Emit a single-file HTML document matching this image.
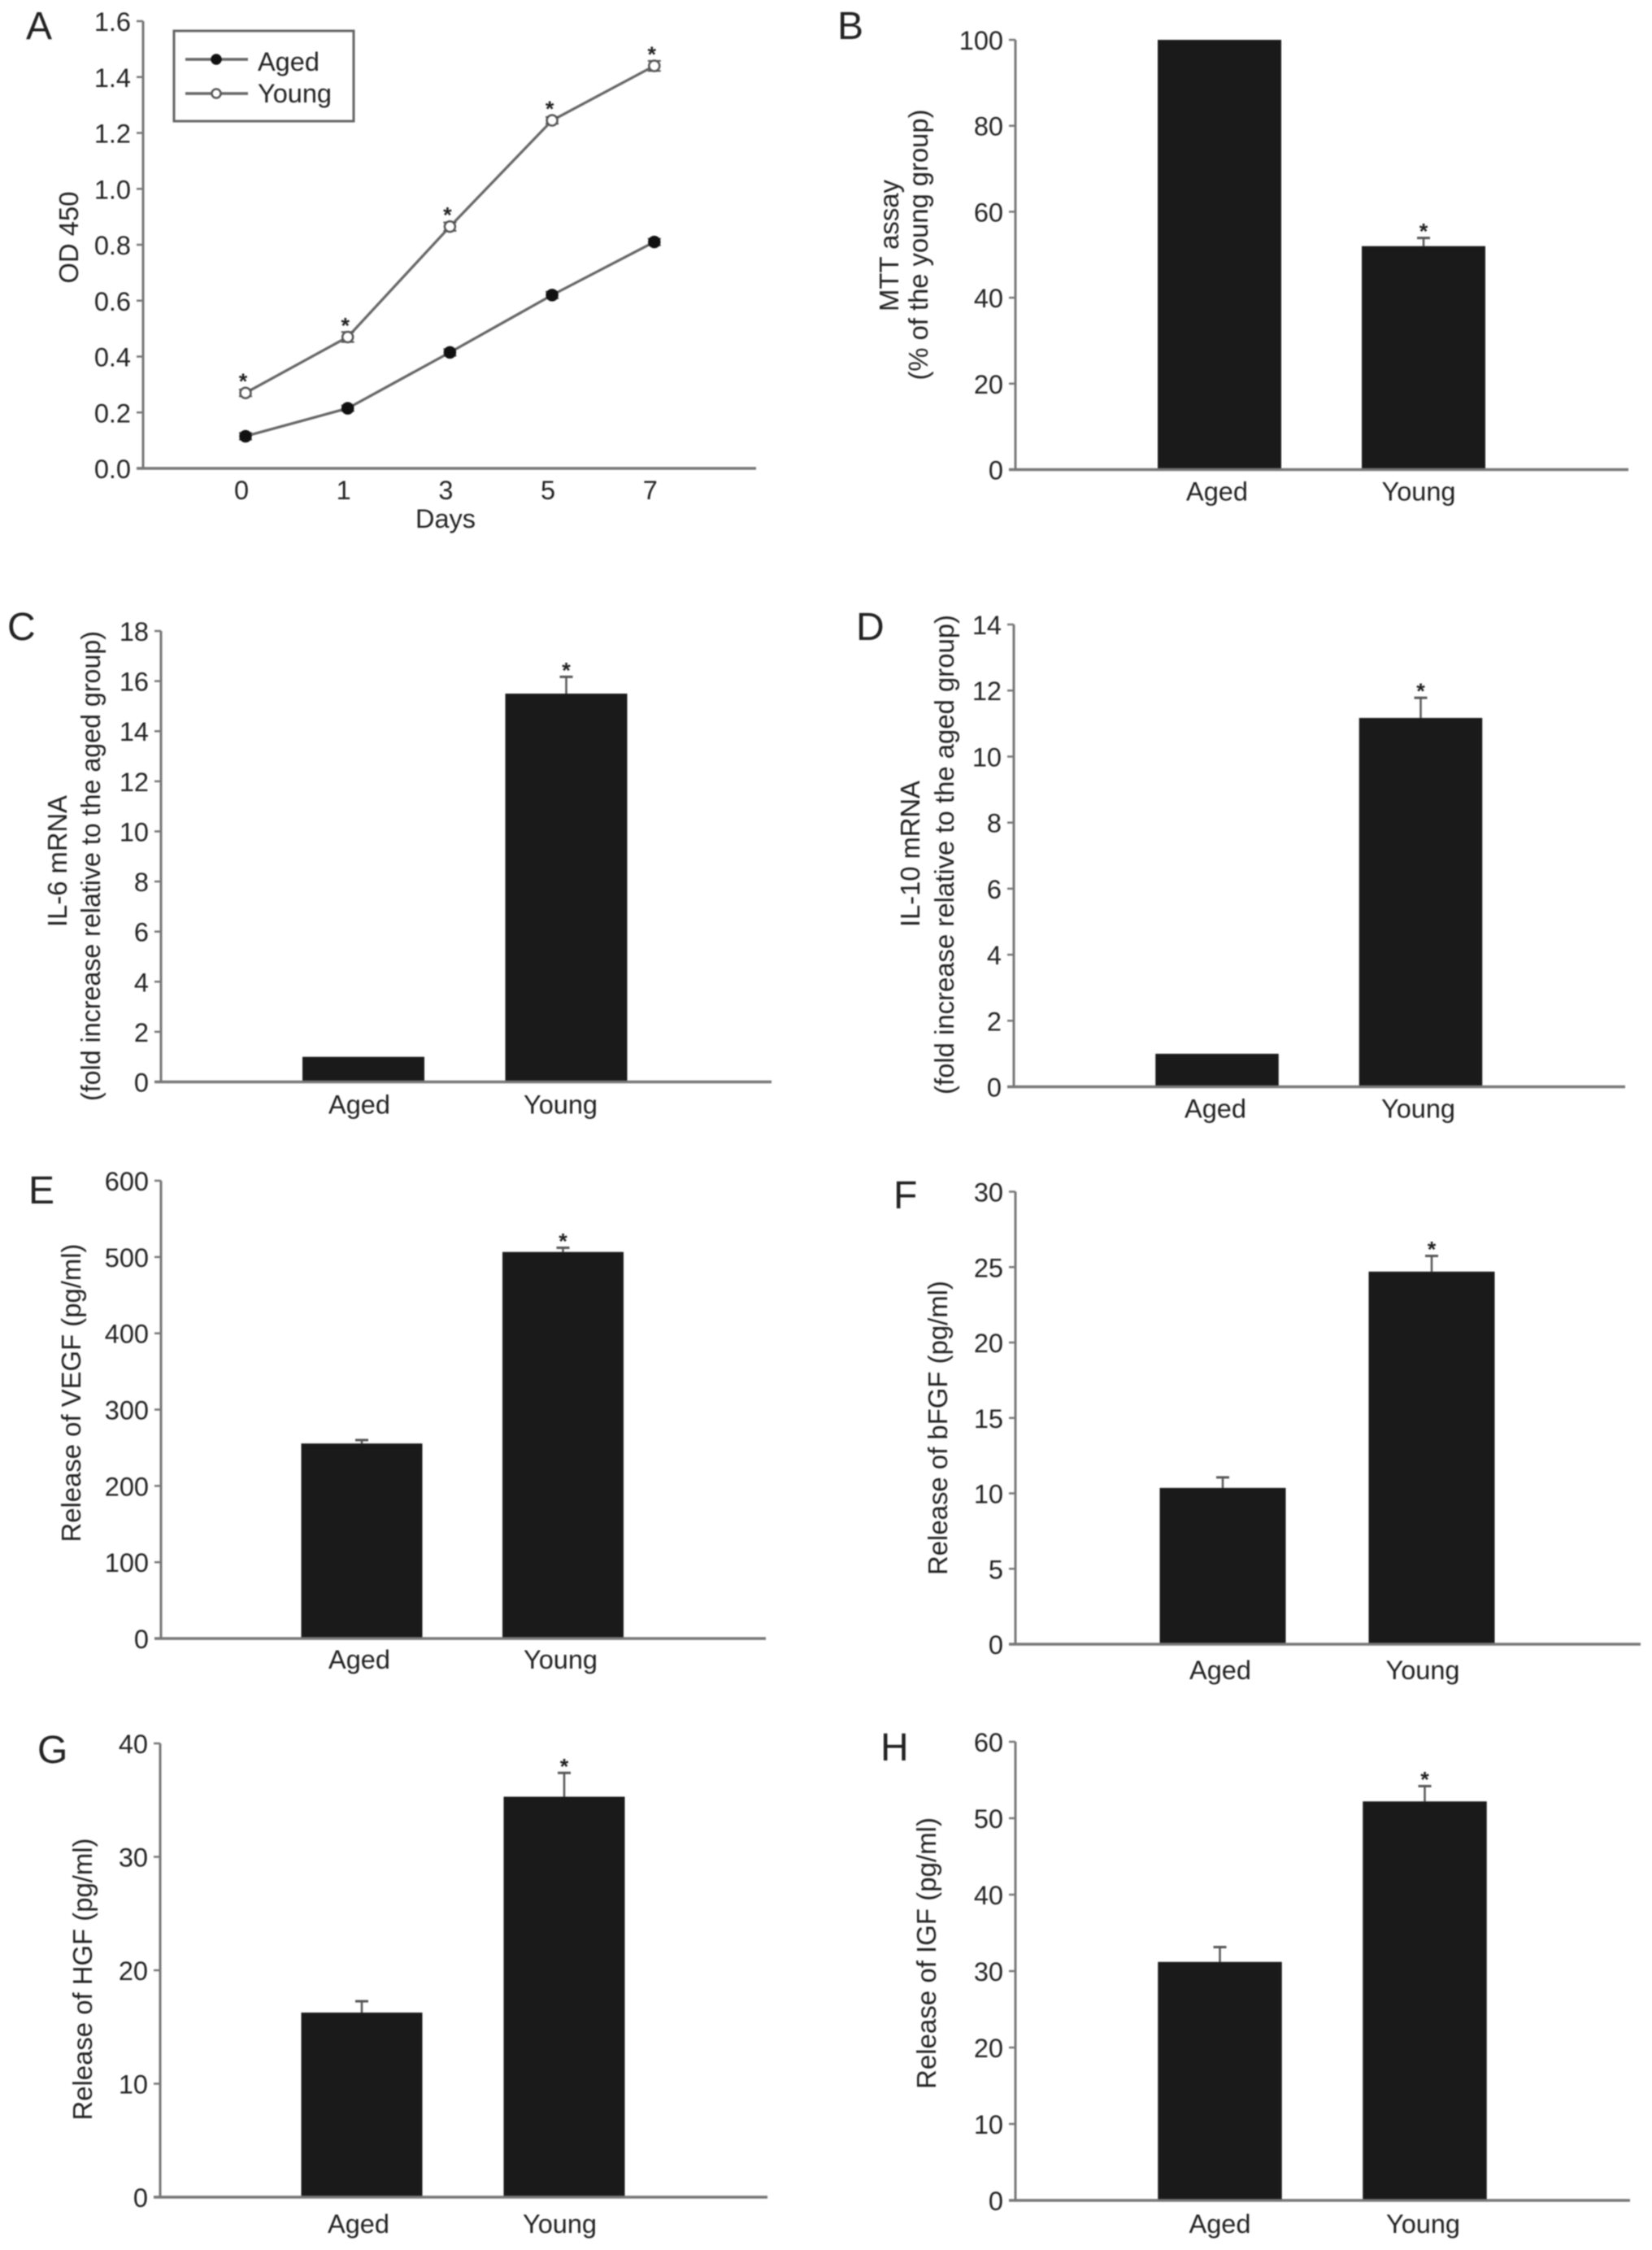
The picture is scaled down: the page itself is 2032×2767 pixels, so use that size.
<!DOCTYPE html>
<html lang="en">
<head>
<meta charset="utf-8">
<title>Aged vs Young cell assays</title>
<style>
html,body{margin:0;padding:0;background:#fff;}
#figure{display:block;width:2032px;height:2767px;filter:blur(0.7px);}
text{font-family:"Liberation Sans",Arial,sans-serif;fill:#222;}
</style>
</head>
<body>
<svg id="figure" xmlns="http://www.w3.org/2000/svg" width="2032" height="2767" viewBox="0 0 2032 2767"></svg>
<script>
// Panel A data
const daysCategories = ['0', '1', '3', '5', '7'];
const agedOd = [0.115, 0.215, 0.415, 0.62, 0.81];
const youngOd = [0.27, 0.47, 0.865, 1.245, 1.44];
const agedOdError = [0.012, 0.01, 0.012, 0.012, 0.012];
const youngOdError = [0.012, 0.018, 0.015, 0.012, 0.018];
const odTicks = [0, 0.2, 0.4, 0.6, 0.8, 1.0, 1.2, 1.4, 1.6];
const odTickLabels = ['0.0', '0.2', '0.4', '0.6', '0.8', '1.0', '1.2', '1.4', '1.6'];

// Bar panel data
const groupCategories = ['Aged', 'Young'];
const mttValues = [100, 52];
const mttErrors = [0, 1.9];
const mttTicks = [0, 20, 40, 60, 80, 100];
const il6Values = [1, 15.5];
const il6Errors = [0, 0.67];
const il6Ticks = [0, 2, 4, 6, 8, 10, 12, 14, 16, 18];
const il10Values = [1, 11.17];
const il10Errors = [0, 0.61];
const il10Ticks = [0, 2, 4, 6, 8, 10, 12, 14];
const vegfValues = [255.6, 506.6];
const vegfErrors = [4.5, 5.5];
const vegfTicks = [0, 100, 200, 300, 400, 500, 600];
const bfgfValues = [10.36, 24.7];
const bfgfErrors = [0.7, 1.04];
const bfgfTicks = [0, 5, 10, 15, 20, 25, 30];
const hgfValues = [16.27, 35.3];
const hgfErrors = [1.0, 2.1];
const hgfTicks = [0, 10, 20, 30, 40];
const igfValues = [31.2, 52.2];
const igfErrors = [1.94, 2.0];
const igfTicks = [0, 10, 20, 30, 40, 50, 60];

const svg = document.getElementById('figure');
const NS = 'http://www.w3.org/2000/svg';
const AXIS = '#777';
const BAR = '#1a1a1a';
const FONT = 32.5;

function make(parent, tag, attrs, txt) {
  const node = document.createElementNS(NS, tag);
  for (const k in attrs) node.setAttribute(k, attrs[k]);
  if (txt !== undefined) node.textContent = txt;
  parent.appendChild(node);
  return node;
}

function linearY(frame, domainMax) {
  return function (v) {
    return frame.bottom - (v / domainMax) * (frame.bottom - frame.top);
  };
}

function bandX(frame) {
  return function (i) {
    return frame.first + i * frame.step;
  };
}

function drawAxes(g, frame, y, ticks, labels) {
  const yAxis = make(g, 'line', {x1: frame.left, x2: frame.left, y1: frame.top, y2: frame.bottom, stroke: AXIS, 'stroke-width': 3});
  
  
  const xAxis = make(g, 'line', {x1: frame.left - 8, x2: frame.right, y1: frame.bottom, y2: frame.bottom, stroke: AXIS, 'stroke-width': 3.5});
  
  
  ticks.forEach(function (t, i) {
    const mark = make(g, 'line', {x1: frame.left - 8, x2: frame.left, y1: y(t), y2: y(t), stroke: AXIS, 'stroke-width': 2.5});
    
    
    const label = make(g, 'text', {x: frame.left - 15, y: y(t) + 12, 'text-anchor': 'end', 'font-size': FONT}, labels ? labels[i] : String(t));
    
    
  });
}

function drawLetter(g, letter, x, baseline) {
  const node = make(g, 'text', {x: x, y: baseline, 'font-size': 48, fill: '#111'}, letter);
  
  
}

function drawYTitle(g, text, x, y, len) {
  const node = make(g, 'text', {
    x: 0, y: 0, 'text-anchor': 'middle', 'font-size': 33,
    textLength: len, lengthAdjust: 'spacingAndGlyphs',
    transform: 'translate(' + x + ',' + y + ') rotate(-90)'
  }, text);
  
  
}

function drawStar(g, x, y) {
  const node = make(g, 'text', {x: x, y: y + 13, 'text-anchor': 'middle', 'font-size': 27, 'font-weight': 'bold', fill: '#222'}, '*');
  
  
}

function drawBarPanel(p) {
  const g = make(svg, 'g', {});
  
  
  const y = linearY(p.frame, p.ticks[p.ticks.length - 1]);
  const x = bandX(p.frame);
  p.values.forEach(function (v, i) {
    const cx = x(i);
    if (p.errors[i] > 0) {
      const top = y(v + p.errors[i]);
      const stem = make(g, 'line', {x1: cx, x2: cx, y1: y(v), y2: top, stroke: '#555', 'stroke-width': 2.5});
      
      
      const cap = make(g, 'line', {x1: cx - 8, x2: cx + 8, y1: top, y2: top, stroke: '#555', 'stroke-width': 3});
      
      
    }
    const bar = make(g, 'rect', {x: cx - p.frame.barW / 2, y: y(v), width: p.frame.barW, height: p.frame.bottom - y(v), fill: BAR});
    
    
    const label = make(g, 'text', {x: cx + p.frame.labelNudge[i], y: p.frame.bottom + p.frame.labelGap, 'text-anchor': 'middle', 'font-size': FONT}, groupCategories[i]);
    
    
    if (i === 1) {
      drawStar(g, cx, y(v + p.errors[i]) - 12);
    }
  });
  drawAxes(g, p.frame, y, p.ticks);
  drawLetter(g, p.letter, p.letterX, p.letterY);
  p.titles.forEach(function (t) {
    drawYTitle(g, t.text, t.x, t.y, t.len);
  });
}

function drawLinePanel() {
  const g = make(svg, 'g', {});
  
  
  const frame = {left: 176, right: 930, top: 26, bottom: 576, first: 302, step: 125.7};
  const y = linearY(frame, 1.6);
  const x = bandX(frame);
  drawAxes(g, frame, y, odTicks, odTickLabels);

  function series(name, vals, errs, markerFill) {
    const pts = vals.map(function (v, i) { return x(i) + ',' + y(v); }).join(' ');
    const line = make(g, 'polyline', {points: pts, fill: 'none', stroke: '#666', 'stroke-width': 3.2});
    
    
    vals.forEach(function (v, i) {
      [v + errs[i], v - errs[i]].forEach(function (e) {
        const cap = make(g, 'line', {x1: x(i) - 8, x2: x(i) + 8, y1: y(e), y2: y(e), stroke: '#555', 'stroke-width': 2});
        
        
      });
      const dot = make(g, 'circle', {cx: x(i), cy: y(v), r: 6.5, fill: markerFill, stroke: markerFill === '#fff' ? '#555' : '#111', 'stroke-width': 2.5});
      
      
    });
  }
  series('aged', agedOd, agedOdError, '#111');
  series('young', youngOd, youngOdError, '#fff');

  youngOd.forEach(function (v, i) {
    drawStar(g, x(i) - 3, y(v) - 18);
  });
  daysCategories.forEach(function (d, i) {
    const label = make(g, 'text', {x: x(i) - 5, y: frame.bottom + 38, 'text-anchor': 'middle', 'font-size': FONT}, d);
    
    
  });
  const xTitle = make(g, 'text', {x: 548, y: 649, 'text-anchor': 'middle', 'font-size': FONT}, 'Days');
  
  
  drawYTitle(g, 'OD 450', 96, 292, 113);
  drawLetter(g, 'A', 32, 48);

  const legend = make(g, 'g', {});
  
  
  const box = make(legend, 'rect', {x: 214, y: 38, width: 221, height: 111, fill: 'none', stroke: '#666', 'stroke-width': 3});
  
  
  [['Aged', '#111', 73, 87], ['Young', '#fff', 115, 126]].forEach(function (row) {
    const swatch = make(legend, 'line', {x1: 228, x2: 305, y1: row[2], y2: row[2], stroke: '#666', 'stroke-width': 3.5});
    
    
    const dot = make(legend, 'circle', {cx: 266, cy: row[2], r: 5.5, fill: row[1], stroke: row[1] === '#fff' ? '#555' : '#111', 'stroke-width': 2.5});
    
    
    const label = make(legend, 'text', {x: 317, y: row[3], 'font-size': FONT}, row[0]);
    
    
  });
}

drawLinePanel();

drawBarPanel({
  name: 'panel-b', letter: 'B', letterX: 1030, letterY: 48,
  values: mttValues, errors: mttErrors, ticks: mttTicks,
  frame: {left: 1249, right: 2003, top: 49, bottom: 577.5, first: 1500, step: 251, barW: 152, labelNudge: [-3, -6], labelGap: 38},
  titles: [
    {text: 'MTT assay', x: 1105, y: 302, len: 162},
    {text: '(% of the young group)', x: 1141, y: 301, len: 333}
  ]
});
drawBarPanel({
  name: 'panel-c', letter: 'C', letterX: 9, letterY: 787,
  values: il6Values, errors: il6Errors, ticks: il6Ticks,
  frame: {left: 198, right: 949, top: 776, bottom: 1330.5, first: 447, step: 249.5, barW: 150, labelNudge: [-5, -7], labelGap: 39},
  titles: [
    {text: 'IL-6 mRNA', x: 82, y: 1059, len: 162},
    {text: '(fold increase relative to the aged group)', x: 123, y: 1065, len: 578}
  ]
});
drawBarPanel({
  name: 'panel-d', letter: 'D', letterX: 1053, letterY: 787,
  values: il10Values, errors: il10Errors, ticks: il10Ticks,
  frame: {left: 1247, right: 1999, top: 768, bottom: 1336.5, first: 1497, step: 250.5, barW: 151.5, labelNudge: [-2, -3], labelGap: 38},
  titles: [
    {text: 'IL-10 mRNA', x: 1131, y: 1050, len: 180},
    {text: '(fold increase relative to the aged group)', x: 1173, y: 1051, len: 590}
  ]
});
drawBarPanel({
  name: 'panel-e', letter: 'E', letterX: 35, letterY: 1480,
  values: vegfValues, errors: vegfErrors, ticks: vegfTicks,
  frame: {left: 198, right: 942, top: 1452, bottom: 2015, first: 445, step: 247.5, barW: 149, labelNudge: [-3, -3], labelGap: 37},
  titles: [
    {text: 'Release of VEGF (pg/ml)', x: 99, y: 1713, len: 367}
  ]
});
drawBarPanel({
  name: 'panel-f', letter: 'F', letterX: 1099, letterY: 1486,
  values: bfgfValues, errors: bfgfErrors, ticks: bfgfTicks,
  frame: {left: 1249, right: 2018, top: 1465.5, bottom: 2022, first: 1504, step: 257, barW: 155, labelNudge: [-3, -11], labelGap: 43},
  titles: [
    {text: 'Release of bFGF (pg/ml)', x: 1165, y: 1756, len: 362}
  ]
});
drawBarPanel({
  name: 'panel-g', letter: 'G', letterX: 46, letterY: 2168,
  values: hgfValues, errors: hgfErrors, ticks: hgfTicks,
  frame: {left: 197, right: 944, top: 2144, bottom: 2702, first: 445, step: 249, barW: 149, labelNudge: [-4, -5.5], labelGap: 44},
  titles: [
    {text: 'Release of HGF (pg/ml)', x: 113, y: 2434, len: 347}
  ]
});
drawBarPanel({
  name: 'panel-h', letter: 'H', letterX: 1083, letterY: 2165,
  values: igfValues, errors: igfErrors, ticks: igfTicks,
  frame: {left: 1249, right: 2005, top: 2142, bottom: 2706, first: 1500.5, step: 252, barW: 152.5, labelNudge: [0, -2], labelGap: 40},
  titles: [
    {text: 'Release of IGF (pg/ml)', x: 1151, y: 2402, len: 334}
  ]
});
</script>
</body>
</html>
